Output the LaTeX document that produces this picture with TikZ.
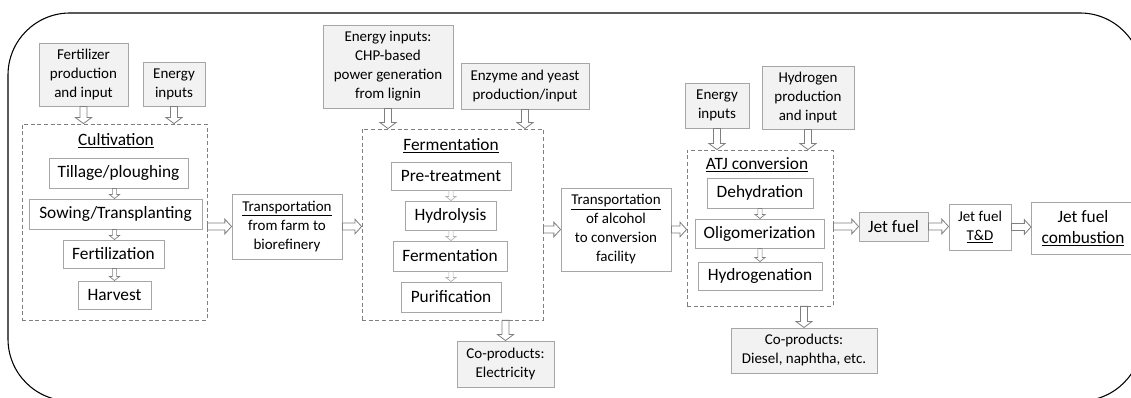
\documentclass[tikz,border=0pt]{standalone}
\usepackage{fontspec}
\setmainfont{Carlito}
\usetikzlibrary{calc}

\definecolor{boxgray}{HTML}{A6A6A6}
\definecolor{fillgray}{HTML}{F2F2F2}
\definecolor{dashgray}{HTML}{7F7F7F}
\definecolor{arrgray}{HTML}{7F7F7F}
\definecolor{arrlight}{HTML}{B0B0B0}

\newcommand\bigtext{\fontsize{13}{15.75}\selectfont}
\newcommand\smalltext{\fontsize{11.25}{14.25}\selectfont}

\tikzset{
  sz/.style 2 args={minimum width=#1*0.75pt, minimum height=#2*0.75pt},
  proc/.style={draw=boxgray, line width=0.7pt, fill=white, inner sep=0pt, align=center, font=\bigtext},
  inp/.style={draw=boxgray, line width=0.7pt, fill=fillgray, inner sep=0pt, align=center, font=\smalltext},
  trans/.style={draw=boxgray, line width=0.7pt, fill=white, inner sep=0pt, align=center, font=\smalltext},
  grp/.style={draw=dashgray, line width=0.6pt, dash pattern=on 3pt off 2pt, inner sep=0pt},
  grptitle/.style={font=\bigtext, inner sep=1pt},
  % hollow block arrows
  hblk/.style={draw=arrgray, fill=white, line width=0.6pt,
    to path={let \p1=(\tikztostart), \p2=(\tikztotarget) in
      (\x1,\y1+2.6pt) -- (\x2-5pt,\y1+2.6pt) -- (\x2-5pt,\y1+5.5pt) -- (\x2,\y1)
      -- (\x2-5pt,\y1-5.5pt) -- (\x2-5pt,\y1-2.6pt) -- (\x1,\y1-2.6pt) -- cycle}},
  vblk/.style={draw=arrgray, fill=white, line width=0.6pt,
    to path={let \p1=(\tikztostart), \p2=(\tikztotarget) in
      (\x1-2.6pt,\y1) -- (\x1-2.6pt,\y2+4.5pt) -- (\x1-6pt,\y2+4.5pt) -- (\x1,\y2)
      -- (\x1+6pt,\y2+4.5pt) -- (\x1+2.6pt,\y2+4.5pt) -- (\x1+2.6pt,\y1) -- cycle}},
  vsub/.style={draw=arrgray, fill=white, line width=0.5pt,
    to path={let \p1=(\tikztostart), \p2=(\tikztotarget) in
      (\x1-1.6pt,\y1) -- (\x1-1.6pt,\y2+3pt) -- (\x1-3.8pt,\y2+3pt) -- (\x1,\y2)
      -- (\x1+3.8pt,\y2+3pt) -- (\x1+1.6pt,\y2+3pt) -- (\x1+1.6pt,\y1) -- cycle}},
}

\begin{document}
\begin{tikzpicture}[x=0.75pt, y=-0.75pt]

  \useasboundingbox (0,0) rectangle (1131,398);
  \clip (0,0) rectangle (1131,398);

  % -- Outer frame --
  \draw[black, line width=0.8pt, rounded corners=46.5pt] (8,13) rectangle (1142,401);

  % -- Cultivation --
  \node[inp, sz={89}{63}] (fert) at (83.5,74.5) {Fertilizer\\production\\and input};
  \node[inp, sz={62}{44}] (ene1) at (174,84) {Energy\\inputs};
  \node[grp, sz={185}{196}] (cult) at (114.5,222) {};
  \node[grptitle] (cultT) at (116,141) {\underline{Cultivation}};
  \node[proc, sz={139}{30}] (till) at (118.5,173) {Tillage/ploughing};
  \node[proc, sz={173}{30}] (sow) at (115.5,214) {Sowing/Transplanting};
  \node[proc, sz={101}{28}] (fertz) at (113.5,254) {Fertilization};
  \node[proc, sz={73}{28}] (harv) at (114.5,295) {Harvest};

  \draw[vblk] (fert.south) to (fert.south |- cult.north);
  \draw[vblk] (ene1.south) to (ene1.south |- cult.north);
  \draw[vsub] (till.south -| harv.north) to (sow.north -| harv.north);
  \draw[vsub] (sow.south -| harv.north) to (fertz.north -| harv.north);
  \draw[vsub] (fertz.south -| harv.north) to (harv.north);

  % -- Transportation to biorefinery --
  \node[trans, sz={110}{65}] (trf) at (287,226.5) {\underline{Transportation}\\from farm to\\biorefinery};
  \draw[hblk] (cult.east |- trf.west) to (trf.west);

  % -- Fermentation --
  \node[inp, sz={130}{83}] (chp) at (388,66.5) {Energy inputs:\\CHP-based\\power generation\\from lignin};
  \node[inp, sz={128}{46}] (enz) at (525,86) {Enzyme and yeast\\production/input};
  \node[grp, sz={181}{191}] (ferm) at (452.5,224.5) {};
  \node[grptitle] (fermT) at (451,146) {\underline{Fermentation}};
  \node[proc, sz={120}{28}] (pre) at (451,176) {Pre-treatment};
  \node[proc, sz={91}{29}] (hydl) at (450.5,215.5) {Hydrolysis};
  \node[proc, sz={114}{30}] (fer) at (450,256) {Fermentation};
  \node[proc, sz={100}{30}] (pur) at (451,297) {Purification};
  \node[inp, sz={97}{46}] (elec) at (505.5,364) {Co-products:\\Electricity};

  \draw[hblk] (trf.east) to (trf.east -| ferm.west);
  \draw[vblk] (chp.south) to (chp.south |- ferm.north);
  \draw[vblk] (enz.south) to (enz.south |- ferm.north);
  \draw[vsub, draw=arrlight] (pre.south) to (pre.south |- hydl.north);
  \draw[vsub, draw=arrlight] (hydl.south -| pre.south) to (pre.south |- fer.north);
  \draw[vsub, draw=arrlight] (fer.south -| pre.south) to (pre.south |- pur.north);
  \draw[vblk] (ferm.south -| elec.north) to (elec.north);

  % -- Transportation to conversion facility --
  \node[trans, sz={110}{83}] (tra) at (616,229.5) {\underline{Transportation}\\of alcohol\\to conversion\\facility};
  \draw[hblk] (ferm.east |- tra.west) to (tra.west);

  % -- ATJ conversion --
  \node[inp, sz={64}{45}] (ene2) at (717,105.5) {Energy\\inputs};
  \node[inp, sz={92}{63}] (hyg) at (808,97.5) {Hydrogen\\production\\and input};
  \node[grp, sz={146}{156}] (atj) at (760,228) {};
  \node[grptitle] (atjT) at (757,165) {\underline{ATJ conversion}};
  \node[proc, sz={106}{30}] (deh) at (760,193) {Dehydration};
  \node[proc, sz={129}{29}] (oli) at (759.5,233.5) {Oligomerization};
  \node[proc, sz={124}{28}] (hydg) at (760,276) {Hydrogenation};
  \node[inp, sz={146}{45}] (dies) at (804,350.5) {Co-products:\\Diesel, naphtha, etc.};

  \draw[hblk] (tra.east) to (tra.east -| atj.west);
  \draw[vblk] (ene2.south) to (ene2.south |- atj.north);
  \draw[vblk] (hyg.south) to (hyg.south |- atj.north);
  \draw[vsub] (deh.south) to (deh.south |- oli.north);
  \draw[vsub] (oli.south -| deh.south) to (deh.south |- hydg.north);
  \draw[vblk] (atj.south -| dies.north) to (dies.north);

  % -- Jet fuel chain --
  \node[inp, font=\bigtext, sz={69}{29}] (jet) at (893.5,226.5) {Jet fuel};
  \node[trans, sz={62}{46}] (jtd) at (980,227) {Jet fuel\\\underline{T\&D}};
  \node[proc, sz={103}{52}] (comb) at (1083,228) {Jet fuel\\\underline{combustion}};

  \draw[hblk] (atj.east |- jet.west) to (jet.west);
  \draw[hblk] (jet.east) to (jtd.west);
  \draw[hblk] (jtd.east) to (comb.west);

\end{tikzpicture}
\end{document}
